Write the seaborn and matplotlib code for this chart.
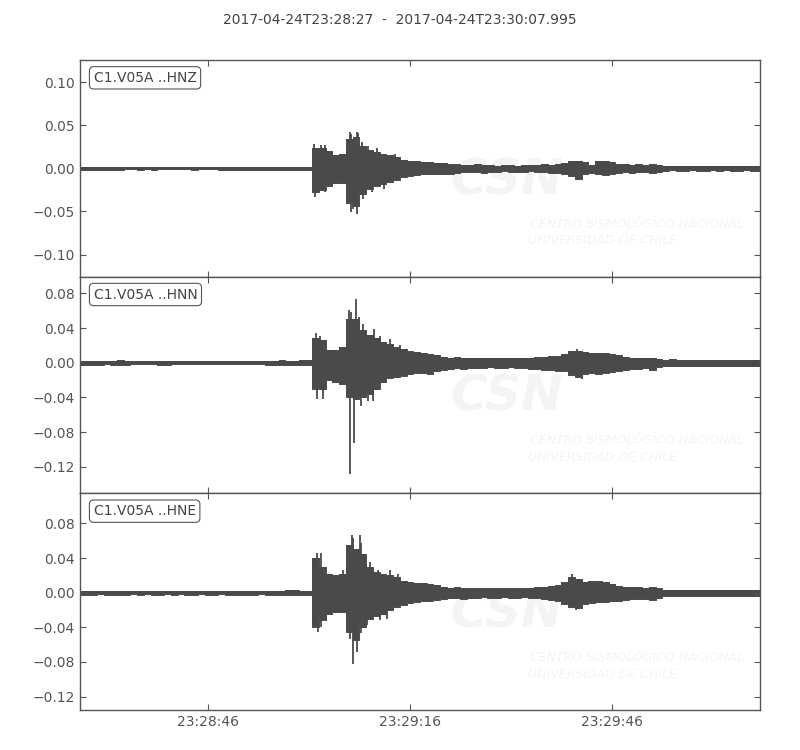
import numpy as np
import pandas as pd
import matplotlib
matplotlib.use("Agg")
import matplotlib.pyplot as plt
import seaborn as sns

# ------------------------------------------------------------------
# data: envelope of each component, one sample per second after
# 2017-04-24T23:28:27 (max / min over each second), plus the big peaks
# ------------------------------------------------------------------
seconds = np.arange(0, 102)
trace_ids = ["C1.V05A ..HNZ", "C1.V05A ..HNN", "C1.V05A ..HNE"]
time_ticks = [19, 49, 79]
time_labels = ["23:28:46", "23:29:16", "23:29:46"]
title = "2017-04-24T23:28:27  -  2017-04-24T23:30:07.995"

hnz_hi = [0.0016, 0.0015, 0.0014, 0.0016, 0.0020, 0.0015, 0.0014, 0.0013, 0.0014, 0.0015,
          0.0014, 0.0013, 0.0014, 0.0013, 0.0012, 0.0013, 0.0014, 0.0013, 0.0012, 0.0013,
          0.0014, 0.0015, 0.0016, 0.0015, 0.0014, 0.0016, 0.0017, 0.0016, 0.0018, 0.0017,
          0.0016, 0.0018, 0.0017, 0.0016, 0.0018,
          0.024, 0.024, 0.020, 0.015, 0.017, 0.034, 0.036, 0.026, 0.021, 0.019,
          0.017, 0.015, 0.013, 0.010, 0.009, 0.008, 0.007, 0.007, 0.006, 0.006,
          0.005, 0.005,
          0.004, 0.004, 0.005, 0.004, 0.004, 0.003, 0.004, 0.004, 0.003, 0.004,
          0.004, 0.004, 0.005, 0.004, 0.005,
          0.006, 0.008, 0.009, 0.007, 0.004, 0.008, 0.009, 0.007, 0.005,
          0.005, 0.004, 0.005, 0.004, 0.005, 0.004,
          0.003, 0.0028, 0.003, 0.0025, 0.0028, 0.003, 0.0025, 0.0028, 0.0025, 0.003,
          0.0028, 0.0025, 0.0028, 0.003, 0.0025]
hnz_lo = [-0.0015, -0.0016, -0.0014, -0.0015, -0.0018, -0.0016, -0.0014, -0.0013, -0.0013, -0.0014,
          -0.0013, -0.0014, -0.0013, -0.0012, -0.0013, -0.0012, -0.0013, -0.0014, -0.0013, -0.0012,
          -0.0013, -0.0014, -0.0015, -0.0016, -0.0015, -0.0015, -0.0016, -0.0017, -0.0016, -0.0018,
          -0.0017, -0.0016, -0.0018, -0.0017, -0.0016,
          -0.028, -0.025, -0.020, -0.017, -0.017, -0.040, -0.044, -0.030, -0.024, -0.021,
          -0.018, -0.016, -0.013, -0.010, -0.009, -0.008, -0.007, -0.006, -0.006, -0.006,
          -0.006, -0.005,
          -0.004, -0.004, -0.004, -0.005, -0.004, -0.004, -0.003, -0.004, -0.004, -0.004,
          -0.003, -0.004, -0.004, -0.005, -0.005,
          -0.006, -0.009, -0.012, -0.007, -0.005, -0.007, -0.008, -0.006, -0.005,
          -0.004, -0.005, -0.004, -0.004, -0.005, -0.004,
          -0.003, -0.0025, -0.0028, -0.003, -0.0025, -0.0028, -0.003, -0.0025, -0.0028, -0.0025,
          -0.003, -0.0028, -0.0025, -0.003, -0.0028]
hnz_peak_t = [34.8, 35.8, 36.4, 40.1, 40.3, 41.1, 41.3, 41.9, 42.8, 44.1, 46.8,
              34.9, 36.4, 40.2, 40.5, 41.1, 42.1, 43.3, 45.1, 74.0]
hnz_peak_v = [0.028, 0.027, 0.027, 0.042, 0.040, 0.042, 0.041, 0.031, 0.026, 0.023, 0.017,
              -0.033, -0.028, -0.051, -0.047, -0.053, -0.035, -0.027, -0.024, -0.012]

hnn_hi = [0.0022, 0.0025, 0.0023, 0.0020, 0.0021, 0.0024, 0.0026, 0.0022, 0.0020, 0.0021,
          0.0019, 0.0018, 0.0020, 0.0023, 0.0021, 0.0019, 0.0018, 0.0020, 0.0019, 0.0018,
          0.0020, 0.0019, 0.0018, 0.0017, 0.0019, 0.0020, 0.0018, 0.0019, 0.0021, 0.0024,
          0.0026, 0.0025, 0.0024, 0.0027, 0.0030,
          0.028, 0.026, 0.015, 0.015, 0.018, 0.050, 0.050, 0.038, 0.032, 0.028,
          0.024, 0.022, 0.018, 0.016, 0.013, 0.012, 0.011, 0.010, 0.009,
          0.007, 0.006, 0.007, 0.006, 0.005, 0.006, 0.005, 0.005, 0.006, 0.005,
          0.005, 0.006, 0.005, 0.006, 0.007, 0.007,
          0.008, 0.008, 0.010, 0.013, 0.014, 0.012, 0.011, 0.011, 0.011, 0.010, 0.009,
          0.007, 0.006, 0.006, 0.005, 0.006, 0.004,
          0.0035, 0.0038, 0.0035, 0.0033, 0.0036, 0.0035, 0.0032, 0.0035, 0.0037, 0.0034,
          0.0033, 0.0035, 0.0034, 0.0036, 0.0035]
hnn_lo = [-0.0024, -0.0022, -0.0025, -0.0021, -0.0020, -0.0023, -0.0025, -0.0021, -0.0020, -0.0019,
          -0.0020, -0.0019, -0.0021, -0.0022, -0.0020, -0.0018, -0.0019, -0.0019, -0.0018, -0.0019,
          -0.0019, -0.0018, -0.0019, -0.0018, -0.0020, -0.0019, -0.0019, -0.0020, -0.0022, -0.0025,
          -0.0027, -0.0024, -0.0025, -0.0026, -0.0030,
          -0.030, -0.030, -0.020, -0.022, -0.025, -0.040, -0.042, -0.040, -0.036, -0.030,
          -0.022, -0.018, -0.016, -0.015, -0.013, -0.012, -0.012, -0.013, -0.010,
          -0.008, -0.007, -0.006, -0.007, -0.006, -0.006, -0.006, -0.005, -0.006, -0.006,
          -0.005, -0.006, -0.006, -0.007, -0.007, -0.008,
          -0.008, -0.009, -0.010, -0.014, -0.016, -0.013, -0.012, -0.013, -0.012, -0.011, -0.010,
          -0.008, -0.007, -0.007, -0.006, -0.008, -0.005,
          -0.0036, -0.0035, -0.0037, -0.0034, -0.0035, -0.0036, -0.0033, -0.0035, -0.0034, -0.0036,
          -0.0035, -0.0033, -0.0036, -0.0034, -0.0035]
hnn_peak_t = [35.1, 35.7, 40.0, 40.2, 41.0, 41.5, 42.1, 43.6, 44.6, 46.0, 47.5, 73.8,
              35.2, 36.1, 40.1, 40.7, 41.7, 42.8, 43.5, 45.3, 74.6]
hnn_peak_v = [0.034, 0.031, 0.061, 0.058, 0.074, 0.053, 0.045, 0.039, 0.031, 0.027, 0.021, 0.016,
              -0.042, -0.042, -0.128, -0.093, -0.050, -0.044, -0.044, -0.023, -0.019]

hne_hi = [0.0021, 0.0023, 0.0020, 0.0022, 0.0021, 0.0020, 0.0022, 0.0023, 0.0021, 0.0020,
          0.0021, 0.0022, 0.0020, 0.0021, 0.0019, 0.0020, 0.0021, 0.0022, 0.0020, 0.0021,
          0.0022, 0.0021, 0.0020, 0.0021, 0.0022, 0.0020, 0.0021, 0.0022, 0.0021, 0.0023,
          0.0024, 0.0032, 0.0028, 0.0024, 0.0025,
          0.040, 0.030, 0.022, 0.020, 0.022, 0.055, 0.050, 0.045, 0.030, 0.024,
          0.022, 0.021, 0.018, 0.014, 0.012, 0.011, 0.011, 0.010, 0.009,
          0.007, 0.006, 0.007, 0.006, 0.006, 0.005, 0.006, 0.005, 0.006, 0.005,
          0.006, 0.005, 0.006, 0.006, 0.007, 0.007, 0.008,
          0.009, 0.012, 0.018, 0.016, 0.012, 0.013, 0.014, 0.012, 0.010, 0.008,
          0.007, 0.007, 0.007, 0.006, 0.007, 0.005,
          0.0036, 0.0035, 0.0034, 0.0036, 0.0035, 0.0033, 0.0036, 0.0035, 0.0034, 0.0035,
          0.0036, 0.0034, 0.0035, 0.0033, 0.0035]
hne_lo = [-0.0022, -0.0021, -0.0022, -0.0020, -0.0021, -0.0022, -0.0021, -0.0022, -0.0020, -0.0021,
          -0.0020, -0.0021, -0.0022, -0.0020, -0.0021, -0.0020, -0.0022, -0.0021, -0.0020, -0.0022,
          -0.0021, -0.0020, -0.0021, -0.0022, -0.0021, -0.0021, -0.0022, -0.0020, -0.0022, -0.0024,
          -0.0023, -0.0030, -0.0027, -0.0023, -0.0024,
          -0.040, -0.032, -0.025, -0.022, -0.022, -0.045, -0.055, -0.040, -0.030, -0.027,
          -0.025, -0.020, -0.017, -0.014, -0.012, -0.011, -0.009, -0.009, -0.008,
          -0.007, -0.006, -0.006, -0.007, -0.006, -0.006, -0.005, -0.006, -0.006, -0.005,
          -0.006, -0.006, -0.005, -0.006, -0.006, -0.007, -0.008,
          -0.010, -0.013, -0.016, -0.018, -0.013, -0.012, -0.011, -0.011, -0.010, -0.009,
          -0.008, -0.007, -0.007, -0.007, -0.008, -0.006,
          -0.0035, -0.0036, -0.0034, -0.0035, -0.0036, -0.0035, -0.0034, -0.0036, -0.0035, -0.0034,
          -0.0035, -0.0036, -0.0034, -0.0035, -0.0036]
hne_peak_t = [35.2, 35.8, 36.4, 39.1, 40.4, 40.6, 41.6, 41.8, 43.1, 44.3, 46.0, 47.3, 73.1,
              35.4, 35.8, 40.1, 40.6, 41.1, 41.8, 42.6, 44.6, 45.6, 73.6]
hne_peak_v = [0.0455, 0.0455, 0.028, 0.026, 0.067, 0.063, 0.067, 0.058, 0.036, 0.026, 0.026, 0.022, 0.022,
              -0.045, -0.040, -0.053, -0.0825, -0.068, -0.047, -0.037, -0.032, -0.030, -0.020]

y_limits = [(-0.1256, 0.1256), (-0.1505, 0.0992), (-0.1355, 0.1148)]
y_ticks = [[-0.10, -0.05, 0.0, 0.05, 0.10],
           [-0.12, -0.08, -0.04, 0.0, 0.04, 0.08],
           [-0.12, -0.08, -0.04, 0.0, 0.04, 0.08]]

traces = [
    (trace_ids[0], hnz_hi, hnz_lo, hnz_peak_t, hnz_peak_v),
    (trace_ids[1], hnn_hi, hnn_lo, hnn_peak_t, hnn_peak_v),
    (trace_ids[2], hne_hi, hne_lo, hne_peak_t, hne_peak_v),
]

# ------------------------------------------------------------------
# style
# ------------------------------------------------------------------
sns.set_style("ticks")
plt.rcParams.update({
    "font.family": ["DejaVu Sans"],
    "font.size": 10,
    "xtick.labelsize": 10,
    "ytick.labelsize": 10,
    "xtick.direction": "in",
    "ytick.direction": "in",
    "xtick.top": True,
    "ytick.right": True,
    "xtick.major.size": 4,
    "ytick.major.size": 4,
    "xtick.major.width": 0.8,
    "ytick.major.width": 0.8,
    "axes.linewidth": 1.0,
    "axes.edgecolor": "#555555",
    "xtick.color": "#555555",
    "ytick.color": "#555555",
    "text.color": "#444444",
})
wave = "#4a4a4a"
mark = "#f4f4f4"

fig, axes = plt.subplots(3, 1, figsize=(8, 7.5), dpi=100, sharex=True)
fig.subplots_adjust(left=0.1, right=0.95, top=0.92, bottom=0.0533, hspace=0)

for i, (ax, (tid, hi, lo, pk_t, pk_v)) in enumerate(zip(axes, traces)):
    # faint CSN watermark behind the trace
    ax.text(0.627, 0.446, "CSN", transform=ax.transAxes, fontsize=36,
            fontweight="bold", style="italic", color=mark,
            ha="center", va="center", zorder=0)
    ax.text(0.662, 0.243, "CENTRO SISMOLÓGICO NACIONAL", transform=ax.transAxes,
            fontsize=9, style="italic", color=mark, ha="left", va="center", zorder=0)
    ax.text(0.659, 0.165, "UNIVERSIDAD DE CHILE", transform=ax.transAxes,
            fontsize=9, style="italic", color=mark, ha="left", va="center", zorder=0)

    df = pd.DataFrame({"t": seconds, "hi": hi, "lo": lo})
    ax.fill_between(df["t"], df["lo"], df["hi"], step="mid", color=wave, lw=0, zorder=2)
    sns.lineplot(data=df, x="t", y="hi", ax=ax, color=wave, lw=0.7,
                 drawstyle="steps-mid", zorder=2)
    sns.lineplot(data=df, x="t", y="lo", ax=ax, color=wave, lw=0.7,
                 drawstyle="steps-mid", zorder=2)
    ax.vlines(pk_t, 0, pk_v, color=wave, lw=1.3, zorder=3)

    ax.set_ylim(*y_limits[i])
    ax.set_yticks(y_ticks[i])
    ax.set_xlabel("")
    ax.set_ylabel("")
    ax.text(0.02, 0.95, tid, transform=ax.transAxes, ha="left", va="top",
            fontsize=10, zorder=5,
            bbox=dict(boxstyle="round", fc="white", ec="#555555", lw=0.8))

axes[-1].set_xlim(0, 100.995)
axes[-1].set_xticks(time_ticks)
axes[-1].set_xticklabels(time_labels)

fig.text(0.5, 1 - 20 / 750, title, ha="center", va="center", fontsize=10)

fig.savefig("out.png", dpi=100)
plt.close(fig)
